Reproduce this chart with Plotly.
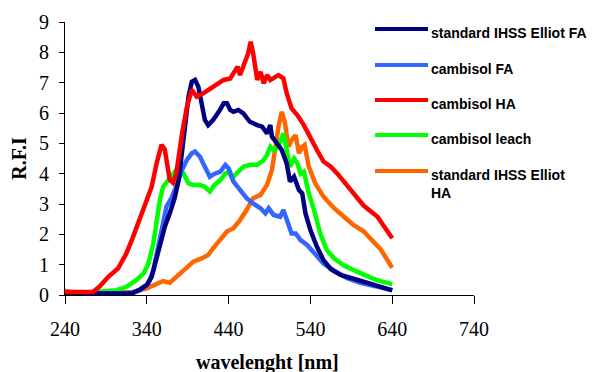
import plotly.graph_objects as go

# ---------------- data ----------------
names = ["standard IHSS Elliot FA", "cambisol FA", "cambisol HA",
         "cambisol leach", "standard IHSS Elliot<br>HA"]
colors = ["#000080", "#3366FF", "#FF0000", "#00FF00", "#FF6600"]

elliot_fa_x = [240, 260, 280, 300, 323, 332, 340, 346, 350, 356, 362, 368, 374, 379,
               383, 387, 391, 395, 399, 403, 407, 411, 415, 421, 428, 434, 438, 442,
               446, 452, 458, 466, 475, 481, 487, 491, 493, 499, 505, 511, 515, 520,
               526, 530, 534, 540, 548, 556, 565, 577, 589, 601, 615, 626, 640]
elliot_fa_y = [0.05, 0.05, 0.05, 0.05, 0.06, 0.19, 0.33, 0.6, 1.04, 1.7, 2.25, 2.69, 3.19, 3.79,
               4.78, 5.66, 6.54, 7.03, 7.09, 6.87, 6.21, 5.77, 5.6, 5.77, 6.04, 6.32, 6.32, 6.1,
               6.04, 6.1, 5.99, 5.71, 5.6, 5.55, 5.33, 5.6, 5.22, 5.0, 4.78, 4.34, 3.74, 3.9,
               3.46, 3.35, 2.69, 2.14, 1.59, 1.15, 0.85, 0.66, 0.55, 0.47, 0.36, 0.27, 0.15]

cambisol_fa_x = [240, 260, 280, 300, 320, 332, 342, 348, 354, 360, 364, 370, 376, 383,
                 389, 395, 399, 405, 411, 417, 423, 430, 436, 440, 446, 454, 462, 470,
                 479, 485, 489, 495, 503, 507, 511, 517, 522, 528, 536, 546, 556, 569,
                 585, 601, 615, 626, 640]
cambisol_fa_y = [0.05, 0.05, 0.05, 0.05, 0.07, 0.16, 0.38, 0.82, 1.59, 2.25, 2.91, 3.19, 3.57, 4.12,
                 4.45, 4.67, 4.73, 4.56, 4.23, 3.9, 4.0, 4.07, 4.29, 4.18, 3.74, 3.46, 3.19, 3.02,
                 2.86, 2.69, 2.86, 2.64, 2.58, 2.8, 2.47, 2.03, 2.03, 1.81, 1.65, 1.37, 1.04, 0.8,
                 0.55, 0.4, 0.3, 0.24, 0.16]

cambisol_ha_x = [240, 260, 274, 282, 293, 305, 315, 323, 336, 346, 352, 358, 362, 368,
                 372, 376, 383, 389, 395, 401, 409, 417, 425, 434, 442, 446, 451, 454,
                 460, 464, 467, 470, 475, 479, 483, 487, 491, 495, 501, 507, 511, 517,
                 524, 532, 540, 548, 556, 565, 573, 585, 605, 622, 640]
cambisol_ha_y = [0.1, 0.08, 0.1, 0.27, 0.6, 0.88, 1.37, 1.9, 2.8, 3.57, 4.34, 4.95, 4.8, 3.8,
                 3.7, 4.0, 5.3, 6.2, 6.76, 6.54, 6.65, 6.8, 6.92, 7.09, 7.14, 7.3, 7.53, 7.25,
                 7.7, 7.97, 8.35, 7.97, 7.09, 7.36, 6.98, 7.25, 7.09, 7.14, 7.25, 7.14, 6.65, 6.15,
                 5.93, 5.6, 5.16, 4.78, 4.4, 4.23, 4.0, 3.62, 2.95, 2.58, 1.87]

leach_x = [240, 260, 282, 303, 315, 327, 336, 342, 348, 352, 356, 360, 366, 372,
           379, 385, 391, 397, 405, 411, 417, 423, 430, 436, 440, 444, 450, 458,
           466, 475, 483, 487, 491, 495, 501, 507, 511, 515, 520, 524, 528, 532,
           538, 544, 552, 560, 569, 581, 593, 605, 620, 640]
leach_y = [0.02, 0.06, 0.1, 0.16, 0.27, 0.49, 0.71, 1.04, 1.7, 2.47, 3.13, 3.57, 3.79, 3.96,
           4.23, 4.0, 3.68, 3.63, 3.63, 3.57, 3.41, 3.63, 3.79, 4.0, 4.07, 3.85, 4.0, 4.23,
           4.29, 4.29, 4.45, 4.62, 4.89, 4.78, 4.89, 5.33, 4.78, 4.23, 4.5, 4.34, 4.0, 4.07,
           3.35, 2.85, 2.03, 1.48, 1.21, 0.97, 0.82, 0.66, 0.5, 0.36]

elliot_ha_x = [240, 254, 280, 300, 323, 340, 352, 360, 368, 376, 387, 397, 405, 415,
               421, 430, 438, 446, 454, 462, 470, 479, 487, 493, 497, 501, 505, 509,
               513, 517, 522, 526, 530, 533, 538, 546, 556, 569, 581, 593, 605, 626, 640]
elliot_ha_y = [0.14, 0.06, 0.06, 0.07, 0.1, 0.22, 0.38, 0.46, 0.4, 0.6, 0.88, 1.1, 1.18, 1.32,
               1.54, 1.81, 2.09, 2.2, 2.47, 2.8, 3.19, 3.3, 3.63, 4.12, 4.89, 5.55, 6.04, 5.66,
               4.89, 5.11, 5.27, 4.67, 4.89, 4.95, 4.23, 3.68, 3.24, 2.86, 2.58, 2.3, 2.1, 1.5, 0.9]

x_ticks = [240, 340, 440, 540, 640, 740]
y_ticks = [0, 1, 2, 3, 4, 5, 6, 7, 8, 9]
x_title = "wavelenght [nm]"
y_title = "R.F.I"

series_x = [elliot_fa_x, cambisol_fa_x, cambisol_ha_x, leach_x, elliot_ha_x]
series_y = [elliot_fa_y, cambisol_fa_y, cambisol_ha_y, leach_y, elliot_ha_y]
draw_order = [4, 3, 1, 0, 2]  # orange at back ... red on top

# ---------------- figure ----------------
fig = go.Figure()
for i in draw_order:
    fig.add_trace(go.Scatter(x=series_x[i], y=series_y[i], mode="lines",
                             name=names[i], showlegend=False,
                             line=dict(color=colors[i], width=4.5)))

OFF = 8  # page body margin of the html page
W, H = 595 - OFF, 372 - OFF
ml, mr, mt, mb = 65 - OFF, 121, 22 - OFF, 77
pw, ph = W - ml - mr, H - mt - mb

def px_x(p):  # screen pixel -> paper x
    return (p - OFF - ml) / pw

def px_y(p):  # screen pixel -> paper y
    return (H - mb - (p - OFF)) / ph

# manual legend
leg_rows = [29, 65, 100, 135, 171]
for i, yrow in enumerate(leg_rows):
    fig.add_shape(type="line", xref="paper", yref="paper",
                  x0=px_x(375), x1=px_x(428), y0=px_y(yrow), y1=px_y(yrow),
                  line=dict(color=colors[i], width=4))
    fig.add_annotation(xref="paper", yref="paper", x=px_x(429),
                       y=px_y(yrow - 6), xanchor="left", yanchor="top",
                       text=names[i], showarrow=False, align="left",
                       font=dict(family="Liberation Sans", size=14, color="black",
                                 weight="bold"))

# x-axis title (placed as annotation so it can sit at the very bottom)
fig.add_annotation(xref="paper", yref="paper", x=px_x(267), y=px_y(362),
                   xanchor="center", yanchor="middle", showarrow=False,
                   text="<b>" + x_title + "</b>",
                   font=dict(family="Liberation Serif", size=20, color="black"))

fig.update_layout(
    width=W, height=H,
    margin=dict(l=ml, r=mr, t=mt, b=mb, autoexpand=False),
    paper_bgcolor="white", plot_bgcolor="white",
    font=dict(family="Liberation Serif", size=20, color="black"),
)
fig.update_xaxes(range=[240, 740], tickvals=x_ticks, ticks="outside", ticklen=8,
                 tickcolor="black", showline=True, linecolor="black", linewidth=1,
                 showgrid=False, zeroline=False, ticklabelstandoff=8, automargin=False)
fig.update_yaxes(range=[0, 9], tickvals=y_ticks, ticks="outside", ticklen=5,
                 tickcolor="black", showline=True, linecolor="black", linewidth=1,
                 showgrid=False, zeroline=False, ticklabelstandoff=6, automargin=False,
                 title=dict(text="<b>" + y_title + "</b>", standoff=8, font=dict(size=20)))

fig.write_html("out.html")
